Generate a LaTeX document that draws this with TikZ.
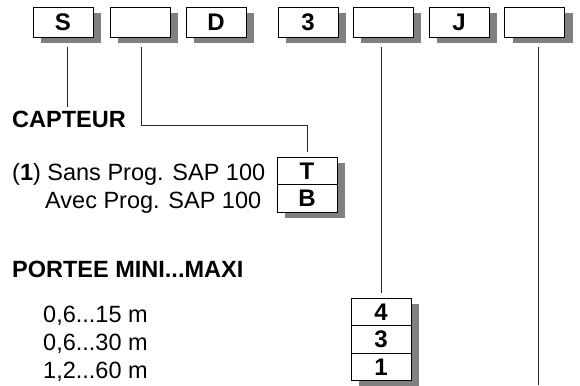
\documentclass[tikz,border=0pt]{standalone}
\usepackage{fontspec}
\setmainfont{Liberation Sans}
\usetikzlibrary{shadows}

\begin{document}
\begin{tikzpicture}[x=1pt,y=-1pt,
    codebox/.style={draw=black,line width=0.8pt,fill=white,minimum width=60pt,minimum height=30pt,inner sep=0pt,
      font=\fontsize{24}{28}\selectfont\bfseries,
      drop shadow={shadow xshift=8pt,shadow yshift=-6pt,opacity=1,fill=black!50}},
    cell/.style={codebox,minimum height=27.5pt},
    lead/.style={line width=0.7pt,black!85},
    txt/.style={anchor=base west,inner sep=0pt,font=\fontsize{23.5}{28}\selectfont}]
    \useasboundingbox (0,0) rectangle (580,385);
        % code boxes
        \node[codebox] (S) at (63,22) {S};
        \node[codebox] (b2) at (140,22) {};
        \node[codebox] (D) at (216,22) {D};
        \node[codebox] (n3) at (308,22) {3};
        \node[codebox] (b5) at (383,22) {};
        \node[codebox] (J) at (459,22) {J};
        \node[codebox] (b7) at (534.5,22) {};
        % option boxes
        \node[cell] (T) at (307,170.75) {T};
        \node[cell] (B) at (307,198.25) {B};
        \node[cell] (p4) at (381,311.75) {4};
        \node[cell] (p3) at (381,339.25) {3};
        \node[cell] (p1) at (381,366.75) {1};
        % texts
        \node[txt] (capteur) at (12,128) {\bfseries CAPTEUR};
        \node[txt] (sans) at (12,180) {(\textbf{1}) Sans Prog. SAP 100};
        \node[txt] (avec) at (45,208) {Avec Prog. SAP 100};
        \node[txt] (portee) at (12,277) {\bfseries PORTEE MINI...MAXI};
        \node[txt] (r15) at (43,322) {0,6...15 m};
        \node[txt] (r30) at (43,350) {0,6...30 m};
        \node[txt] (r60) at (43,378) {1,2...60 m};
        % leads
        \coordinate (sEnd) at (67,107);
        \coordinate (bEnd) at (538.5,385);
        \draw[lead] ([xshift=4pt,yshift=-10pt]S.south) -- (sEnd);
        \draw[lead] ([xshift=1pt,yshift=-10pt]b2.south) |- ([yshift=31pt]T.north) -- ([yshift=5pt]T.north);
        \draw[lead] ([xshift=-2pt,yshift=-10pt]b5.south) -- ([yshift=5pt]p4.north);
        \draw[lead] ([xshift=4pt,yshift=-10pt]b7.south) -- (bEnd);
    \end{tikzpicture}
\end{document}
